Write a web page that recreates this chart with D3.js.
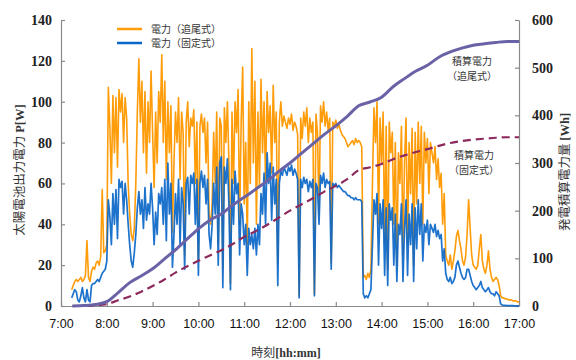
<!DOCTYPE html>
<html>
<head>
<meta charset="utf-8">
<script src="https://cdn.jsdelivr.net/npm/d3@7"></script>
<style>
  html, body { margin: 0; padding: 0; background: #fff; }
  svg { display: block; }
  .num { font-family: "Liberation Serif", serif; font-weight: bold; font-size: 14px; fill: #222; }
  .tick-x { font-family: "Liberation Sans", Arial, sans-serif; font-size: 12.5px; fill: #111; }
  .jp { font-family: "Noto Sans CJK JP", sans-serif; fill: #333; }
  .latin { font-family: "Liberation Serif", serif; font-weight: bold; }
</style>
</head>
<body>
<svg id="chart" width="576" height="360"></svg>
<script>
  // time axis: minutes after midnight, power sampled every 2 minutes from 7:14
  const START_MIN = 7 * 60 + 14;
  const STEP_MIN = 2;
  const hourTicks = ["7:00", "8:00", "9:00", "10:00", "11:00", "12:00", "13:00", "14:00", "15:00", "16:00", "17:00"];
  const powerTicks = [0, 20, 40, 60, 80, 100, 120, 140];
  const energyTicks = [0, 100, 200, 300, 400, 500, 600];

  // 電力（追尾式） [W]
  const powerTracking = [
    8, 10, 12, 13, 12, // 7:14
    13, 14, 12, 13, 15, // 7:24
    32, 14, 12, 17, 19, // 7:34
    18, 21, 22, 20, 24, // 7:44
    57, 26, 27, 30, 107, // 7:54
    88, 60, 103, 75, 102, // 8:04
    68, 106, 95, 104, 80, // 8:14
    102, 92, 60, 45, 35, // 8:24
    32, 38, 60, 95, 121, // 8:34
    90, 110, 75, 105, 65, // 8:44
    100, 80, 115, 85, 58, // 8:54
    95, 70, 105, 90, 123, // 9:04
    80, 110, 62, 100, 75, // 9:14
    98, 36, 70, 95, 80, // 9:24
    102, 62, 95, 85, 25, // 9:34
    90, 100, 78, 92, 88, // 9:44
    96, 60, 90, 22, 88, // 9:54
    94, 85, 92, 70, 90, // 10:04
    45, 40, 50, 85, 60, // 10:14
    95, 30, 92, 88, 18, // 10:24
    97, 80, 100, 70, 11, // 10:34
    95, 60, 100, 85, 106, // 10:44
    40, 90, 117, 50, 80, // 10:54
    30, 100, 60, 126, 70, // 11:04
    110, 40, 95, 58, 111, // 11:14
    75, 100, 60, 105, 85, // 11:24
    98, 65, 108, 80, 95, // 11:34
    21, 90, 100, 88, 93, // 11:44
    90, 87, 92, 89, 94, // 11:54
    86, 90, 88, 84, 5, // 12:04
    92, 82, 95, 88, 97, // 12:14
    80, 92, 85, 90, 6, // 12:24
    94, 85, 45, 98, 90, // 12:34
    100, 88, 95, 86, 92, // 12:44
    21, 90, 88, 91, 87, // 12:54
    89, 86, 84, 83, 82, // 13:04
    80, 78, 79, 80, 81, // 13:14
    79, 82, 80, 81, 80, // 13:24
    78, 14, 15, 13, 16, // 13:34
    14, 18, 60, 97, 80, // 13:44
    100, 40, 92, 70, 95, // 13:54
    30, 88, 18, 90, 75, // 14:04
    85, 40, 80, 20, 75, // 14:14
    60, 88, 25, 70, 92, // 14:24
    30, 80, 55, 87, 20, // 14:34
    85, 50, 90, 60, 88, // 14:44
    40, 85, 70, 82, 55, // 14:54
    80, 75, 70, 78, 62, // 15:04
    72, 58, 65, 40, 55, // 15:14
    25, 22, 20, 25, 18, // 15:24
    22, 27, 34, 37, 32, // 15:34
    28, 22, 20, 24, 35, // 15:44
    52, 38, 25, 20, 19, // 15:54
    18, 20, 28, 35, 22, // 16:04
    18, 16, 20, 27, 18, // 16:14
    14, 12, 13, 14, 13, // 16:24
    10, 5, 4, 4, 3.5, // 16:34
    3.5, 3, 3, 3, 2.5, // 16:44
    2.5, 2.5, 2, 2 // 16:54
  ];

  // 電力（固定式） [W]
  const powerFixed = [
    4, 6, 8, 7, 3,
    2, 5, 9, 4, 2,
    8, 3, 2, 10, 11,
    11, 12, 13, 12, 14,
    16, 17, 18, 22, 52,
    44, 30, 55, 40, 57,
    33, 62, 58, 61, 45,
    60, 52, 40, 30, 22,
    19, 26, 35, 48, 56,
    45, 52, 38, 58, 42,
    50, 45, 60, 48, 30,
    46, 35, 55, 50, 58,
    40, 62, 32, 70, 45,
    60, 19, 35, 55, 40,
    62, 30, 58, 50, 18,
    60, 63, 45, 64, 60,
    65, 40, 62, 15, 60,
    66, 58, 64, 50, 62,
    35, 28, 40, 60, 45,
    68, 20, 70, 73, 9,
    68, 60, 72, 50, 8,
    62, 40, 66, 55, 60,
    25, 50, 45, 30, 40,
    15, 38, 30, 35, 28,
    38, 25, 40, 30, 55,
    45, 65, 40, 75, 60,
    70, 42, 68, 50, 62,
    10, 60, 66, 64, 68,
    66, 64, 68, 66, 69,
    64, 67, 65, 62, 4,
    62, 58, 63, 60, 62,
    56, 61, 58, 62, 5,
    60, 58, 40, 64, 60,
    65, 58, 62, 60, 61,
    18, 60, 59, 60, 58,
    59, 58, 57, 56, 56,
    55, 54, 54, 53, 53,
    52, 53, 52, 52, 52,
    51, 6, 4, 5, 4,
    6, 8, 30, 52, 45,
    55, 20, 50, 38, 52,
    15, 48, 10, 50, 42,
    48, 20, 45, 12, 40,
    35, 50, 12, 38, 52,
    15, 45, 30, 50, 12,
    48, 28, 52, 35, 50,
    22, 40, 36, 42, 30,
    40, 38, 36, 40, 34,
    37, 33, 35, 22, 28,
    16, 13, 12, 14, 11,
    12, 14, 20, 22, 19,
    16, 14, 13, 14, 18,
    18, 15, 12, 10, 9,
    8, 9, 10, 12, 9,
    8, 7, 8, 9, 7,
    6, 6, 5, 7, 6,
    5, 1, 0.5, 0.3, 0.3,
    0.2, 0.2, 0.2, 0.2, 0.2,
    0.1, 0.1, 0.1, 0.1
  ];

  // 積算電力, read every 15 minutes from 7:15 [Wh]
  const energyTimes = ["7:15", "7:30", "7:45", "8:00", "8:15", "8:30", "8:45", "9:00", "9:15", "9:30", "9:45",
    "10:00", "10:15", "10:30", "10:45", "11:00", "11:15", "11:30", "11:45", "12:00", "12:15", "12:30", "12:45",
    "13:00", "13:15", "13:30", "13:45", "14:00", "14:15", "14:30", "14:45", "15:00", "15:15", "15:30", "15:45",
    "16:00", "16:15", "16:30", "16:45", "17:00"];
  const energyTracking = [0, 1, 3, 9, 28, 49, 63, 78, 98, 118, 140,
    162, 180, 193, 212, 228, 245, 262, 282, 300, 320, 340, 360,
    378, 398, 420, 428, 438, 460, 477, 493, 505, 522, 533, 541,
    547, 550, 553, 555, 555];
  const energyFixed = [0, 0, 1, 4, 12, 20, 30, 42, 55, 70, 83,
    95, 106, 117, 130, 145, 157, 170, 185, 200, 213, 226, 240,
    252, 266, 285, 291, 298, 308, 316, 323, 329, 336, 342, 346,
    349, 351, 353, 354, 354];

  const toMin = (s) => {
    const [h, m] = s.split(":").map(Number);
    return h * 60 + m;
  };

  const svg = d3.select("#chart");
  const plotLeft = 61, plotRight = 519, plotTop = 20, plotBottom = 306;
  const axisColor = "#8a8a8a";

  const x = d3.scaleLinear().domain([420, 1020]).range([plotLeft, plotRight]);
  const yP = d3.scaleLinear().domain([0, 140]).range([plotBottom, plotTop]);
  const yE = d3.scaleLinear().domain([0, 600]).range([plotBottom, plotTop]);

  // axes
  const styleAxis = (g) => {
    g.select(".domain").attr("stroke", axisColor).attr("stroke-width", 1.2);
    g.selectAll(".tick line").attr("stroke", axisColor).attr("stroke-width", 1.2);
  };

  svg.append("g")
    .attr("transform", `translate(${plotLeft},0)`)
    .call(d3.axisLeft(yP).tickValues(powerTicks).tickSize(-4).tickSizeOuter(0).tickPadding(9))
    .call(styleAxis)
    .call((g) => g.selectAll("text").attr("class", "num").attr("fill", null));

  svg.append("g")
    .attr("transform", `translate(${plotRight},0)`)
    .call(d3.axisRight(yE).tickValues(energyTicks).tickSize(-4).tickSizeOuter(0).tickPadding(13))
    .call(styleAxis)
    .call((g) => g.selectAll("text").attr("class", "num").attr("fill", null));

  svg.append("g")
    .attr("transform", `translate(0,${plotBottom})`)
    .call(d3.axisBottom(x).tickValues(hourTicks.map(toMin))
      .tickFormat((d, i) => hourTicks[i]).tickSize(-4).tickSizeOuter(0).tickPadding(13))
    .call(styleAxis)
    .call((g) => g.selectAll("text").attr("class", "tick-x").attr("fill", null));

  // power lines
  const timeAt = (i) => START_MIN + i * STEP_MIN;
  const powerLine = d3.line().x((d, i) => x(timeAt(i))).y((d) => yP(d));

  svg.append("path")
    .datum(powerTracking)
    .attr("d", powerLine)
    .attr("fill", "none")
    .attr("stroke", "#ff9c0a")
    .attr("stroke-width", 1.6)
    .attr("stroke-linejoin", "round");

  svg.append("path")
    .datum(powerFixed)
    .attr("d", powerLine)
    .attr("fill", "none")
    .attr("stroke", "#0a66c8")
    .attr("stroke-width", 1.7)
    .attr("stroke-opacity", 0.92)
    .attr("stroke-linejoin", "round");

  // cumulative energy
  const energyLine = d3.line()
    .x((d, i) => x(toMin(energyTimes[i])))
    .y((d) => yE(d))
    .curve(d3.curveMonotoneX);

  svg.append("path")
    .datum(energyFixed)
    .attr("d", energyLine)
    .attr("fill", "none")
    .attr("stroke", "#8c2a5c")
    .attr("stroke-width", 2.2)
    .attr("stroke-dasharray", "8,5");

  svg.append("path")
    .datum(energyTracking)
    .attr("d", energyLine)
    .attr("fill", "none")
    .attr("stroke", "#6a62a6")
    .attr("stroke-width", 3);

  // legend
  const legend = [
    { label: "電力（追尾式）", color: "#ff9c0a", y: 29 },
    { label: "電力（固定式）", color: "#0a66c8", y: 43 },
  ];
  legend.forEach((d) => {
    svg.append("line")
      .attr("x1", 117).attr("x2", 142).attr("y1", d.y).attr("y2", d.y)
      .attr("stroke", d.color).attr("stroke-width", 2.5);
    svg.append("text")
      .attr("class", "jp").attr("x", 151).attr("y", d.y + 3.5)
      .attr("font-size", 10).text(d.label);
  });

  // annotations (two lines each)
  const notes = [
    { lines: ["積算電力", "（追尾式）"], x: 472, y: 65 },
    { lines: ["積算電力", "（固定式）"], x: 474, y: 159 },
  ];
  notes.forEach((n) => {
    n.lines.forEach((line, i) => {
      svg.append("text")
        .attr("class", "jp").attr("x", n.x).attr("y", n.y + i * 14.5)
        .attr("text-anchor", "middle").attr("font-size", 10).text(line);
    });
  });

  // axis titles
  const leftTitle = svg.append("text")
    .attr("class", "jp")
    .attr("transform", "translate(24,170) rotate(-90)")
    .attr("text-anchor", "middle")
    .attr("font-size", 12.5)
    .attr("fill", "#222");
  leftTitle.append("tspan").text("太陽電池出力電力 ");
  leftTitle.append("tspan").attr("class", "latin").text("P[W]");

  const rightTitle = svg.append("text")
    .attr("class", "jp")
    .attr("transform", "translate(569,172) rotate(-90)")
    .attr("text-anchor", "middle")
    .attr("font-size", 12.5)
    .attr("fill", "#222");
  rightTitle.append("tspan").text("発電積算電力量 ");
  rightTitle.append("tspan").attr("class", "latin").text("[Wh]");

  const bottomTitle = svg.append("text")
    .attr("class", "jp")
    .attr("x", 286).attr("y", 357)
    .attr("text-anchor", "middle")
    .attr("font-size", 12)
    .attr("fill", "#222");
  bottomTitle.append("tspan").text("時刻");
  bottomTitle.append("tspan").attr("class", "latin").text("[hh:mm]");
</script>
</body>
</html>
